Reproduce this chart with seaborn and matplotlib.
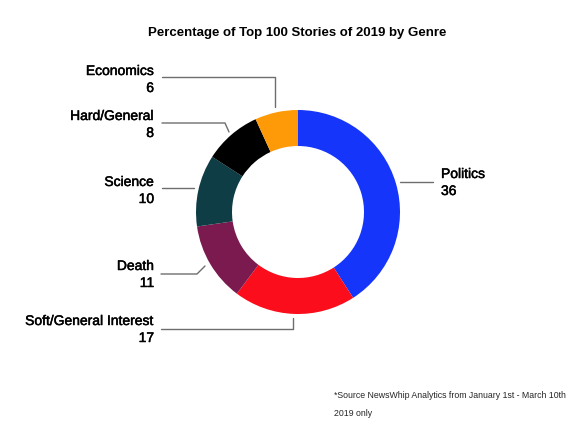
import matplotlib
matplotlib.use("Agg")
from matplotlib import pyplot as plt
import matplotlib.patheffects as pe
import seaborn as sns

# values as shown on the chart (they add up to 88, wedges are drawn proportionally)
genres = ['Politics', 'Soft/General Interest', 'Death', 'Science', 'Hard/General', 'Economics']
counts = [36, 17, 11, 10, 8, 6]
colors = ['#1535FA', '#FC0D1B', '#7A1A4E', '#0E3D45', '#000000', '#FE9A08']

title = 'Percentage of Top 100 Stories of 2019 by Genre'
note_lines = ['*Source NewsWhip Analytics from January 1st - March 10th', '2019 only']

# label layout in pixel coords: text x, first line y, alignment, leader line points
layout = {
    'Politics': (441, 174, 'left', [(400, 182), (433, 182)]),
    'Soft/General Interest': (154, 321, 'right', [(161, 329), (293, 329), (293, 318)]),
    'Death': (154, 266, 'right', [(161, 274), (197, 274), (205, 266)]),
    'Science': (154, 182, 'right', [(162, 188), (194, 188)]),
    'Hard/General': (154, 116, 'right', [(162, 123), (225, 123), (229, 132)]),
    'Economics': (154, 71, 'right', [(162, 77), (275, 77), (275, 107)]),
}

sns.set_theme(style='white')
plt.rcParams['font.family'] = ['Liberation Sans', 'DejaVu Sans']

fig = plt.figure(figsize=(5.84, 4.38), dpi=100)
ax = fig.add_axes([0, 0, 1, 1])

# y axis is flipped (pixel coords), so startangle=-90 is the top and counterclock draws clockwise
ax.pie(counts, colors=colors, startangle=-90, counterclock=True,
       center=(298, 212), radius=102,
       wedgeprops=dict(width=36, linewidth=0))
ax.set_xlim(0, 584)
ax.set_ylim(438, 0)
ax.axis('off')

# a thin stroke makes the labels a bit heavier, like the medium weight in the original
heavy = [pe.withStroke(linewidth=0.35, foreground='black')]

for name, val in zip(genres, counts):
    tx, ty, ha, pts = layout[name]
    ax.text(tx, ty, name, ha=ha, va='center', fontsize=10, color='black', path_effects=heavy)
    ax.text(tx, ty + 17, str(val), ha=ha, va='center', fontsize=10, color='black', path_effects=heavy)
    xs, ys = zip(*pts)
    ax.plot(xs, ys, color='#6e6e6e', lw=1)

ax.text(297, 33, title, ha='center', va='center', fontsize=9.5, fontweight='bold', color='black')
ax.text(334, 395, note_lines[0], ha='left', va='center', fontsize=6.3)
ax.text(334, 413, note_lines[1], ha='left', va='center', fontsize=6.3)

fig.savefig('out.png', dpi=100)
